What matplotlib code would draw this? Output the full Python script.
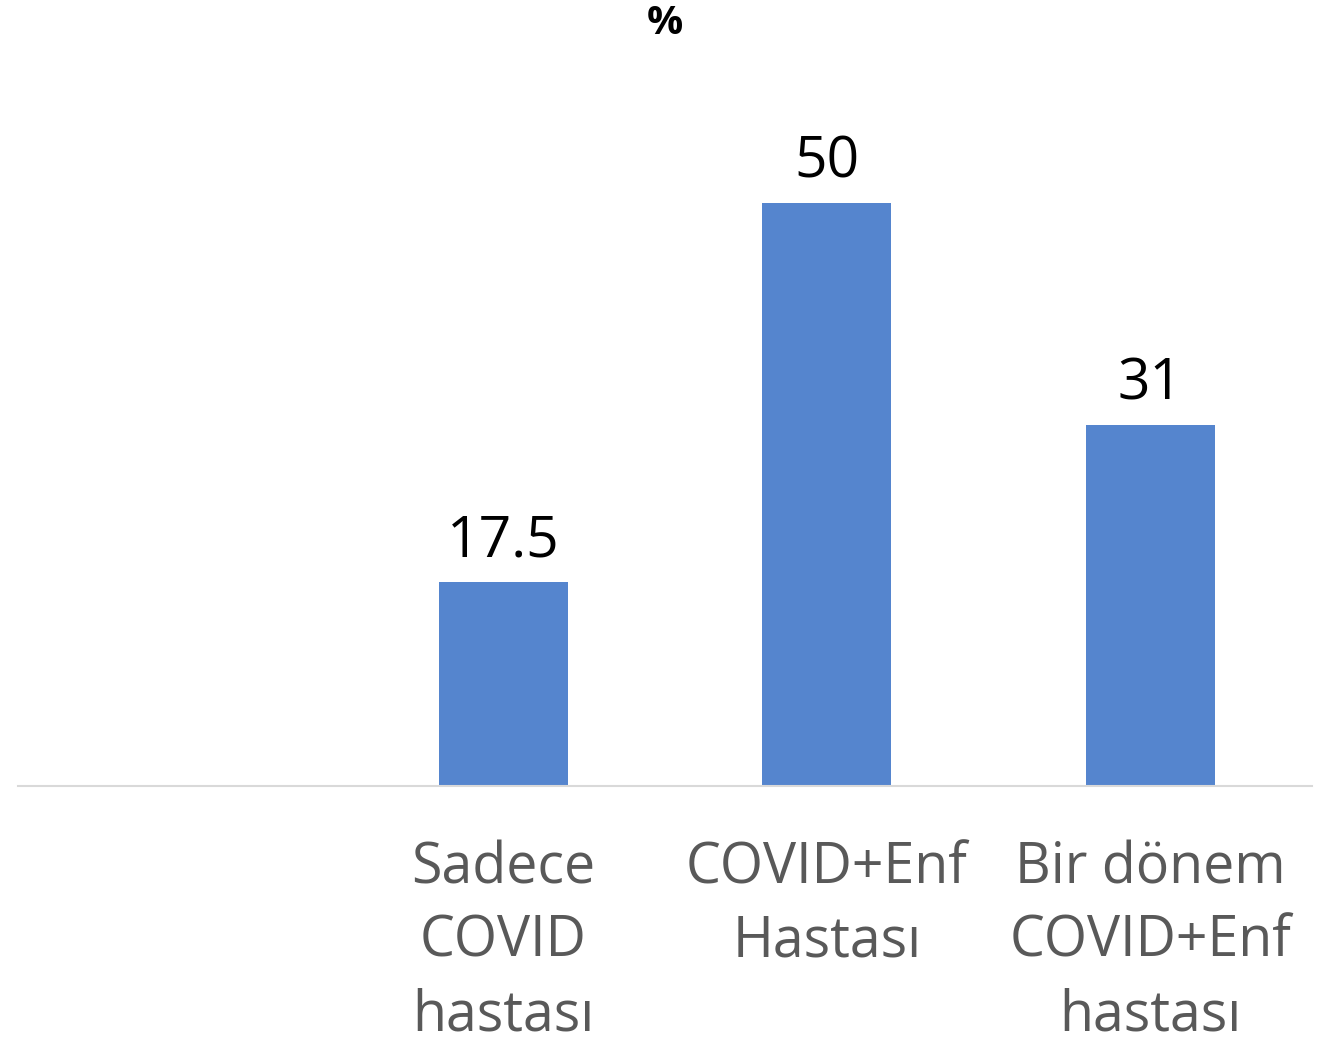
import matplotlib.pyplot as plt

# chart data
categories = ["", "Sadece\nCOVID\nhastası", "COVID+Enf\nHastası", "Bir dönem\nCOVID+Enf\nhastası"]
values = [None, 17.5, 50, 31]
value_labels = ["", "17.5", "50", "31"]

plt.rcParams['font.family'] = ['Open Sans', 'DejaVu Sans']

W, H = 1332, 1044
fig = plt.figure(figsize=(W / 100, H / 100), dpi=100)
ax = fig.add_axes([18 / W, (H - 786) / H, (1312 - 18) / W, (786 - 70) / H])

x = list(range(len(categories)))
heights = [v if v is not None else 0 for v in values]
bars = ax.bar(x, heights, width=0.4, color='#5585CE', zorder=2)
bars[0].set_visible(False)

for xi, v, lab in zip(x, heights, value_labels):
    if lab:
        ax.annotate(lab, (xi, v), xytext=(0, 8), textcoords='offset points',
                    ha='center', va='bottom', fontsize=41, color='black')

ax.set_xlim(-0.5, len(categories) - 0.5)
ax.set_ylim(0, 61.4)
ax.set_xticks(x)
ax.set_xticklabels(categories, fontsize=40, color='#595959', linespacing=1.39)
ax.tick_params(axis='x', length=0, pad=39)
ax.set_yticks([])
for s in ['top', 'right', 'left']:
    ax.spines[s].set_visible(False)
ax.spines['bottom'].set_color('#D9D9D9')
ax.spines['bottom'].set_linewidth(1.5)

fig.text(665 / W, 1 - 24 / H, "%", ha='center', va='center', fontsize=29,
         fontweight='bold', color='black')

fig.savefig('out.png', dpi=100)
